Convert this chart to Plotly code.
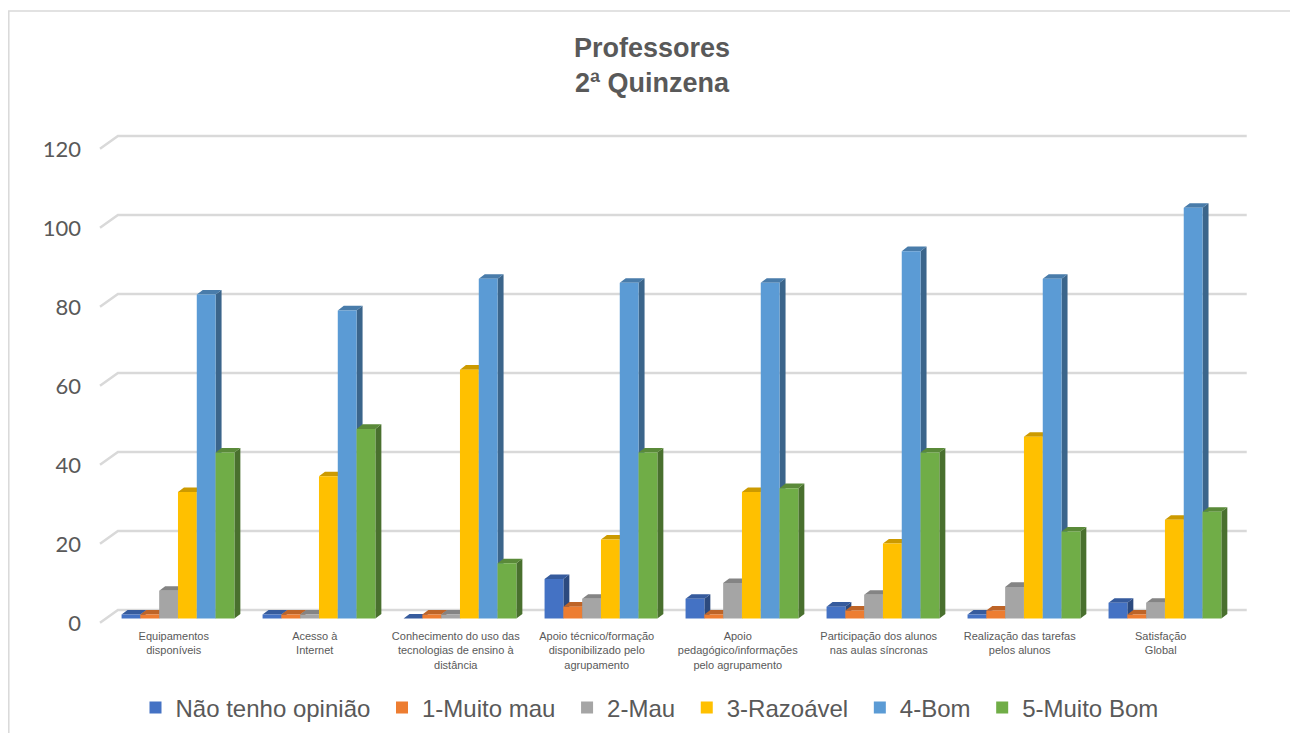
import plotly.graph_objects as go

# ---------------- data ----------------
categories = [
    "Equipamentos<br>disponíveis",
    "Acesso à<br>Internet",
    "Conhecimento do uso das<br>tecnologias de ensino à<br>distância",
    "Apoio técnico/formação<br>disponibilizado pelo<br>agrupamento",
    "Apoio<br>pedagógico/informações<br>pelo agrupamento",
    "Participação dos alunos<br>nas aulas síncronas",
    "Realização das tarefas<br>pelos alunos",
    "Satisfação<br>Global",
]
series_names = ["Não tenho opinião", "1-Muito mau", "2-Mau", "3-Razoável", "4-Bom", "5-Muito Bom"]
nao_tenho_opiniao = [1, 1, 0, 10, 5, 3, 1, 4]
muito_mau = [1, 1, 1, 3, 1, 2, 2, 1]
mau = [7, 1, 1, 5, 9, 6, 8, 4]
razoavel = [32, 36, 63, 20, 32, 19, 46, 25]
bom = [82, 78, 86, 85, 85, 93, 86, 104]
muito_bom = [42, 48, 14, 42, 33, 42, 22, 27]
y_ticks = [0, 20, 40, 60, 80, 100, 120]

series_values = [nao_tenho_opiniao, muito_mau, mau, razoavel, bom, muito_bom]

# ---------------- style ----------------
front_colors = ["#4472C4", "#ED7D31", "#A5A5A5", "#FFC000", "#5B9BD5", "#70AD47"]
side_colors = ["#2C4A7F", "#9A5120", "#6B6B6B", "#A67D00", "#3B658B", "#49702E"]
top_colors = ["#365B9D", "#BE6427", "#848484", "#CC9A00", "#497CAA", "#5A8A39"]
TEXT = "#595959"
GRID = "#d9d9d9"

GROUP = 0.8            # fraction of a category occupied by the cluster
BW = GROUP / len(series_values)
DX = 0.0425            # depth offset (x, category units)
DY = 1.15              # depth offset (y, value units)

W, H = 1298, 733
ML, MR, MT, MB = 82, 48, 112, 116
PW, PH = W - ML - MR, H - MT - MB

fig = go.Figure()

# back wall gridlines with the 3D diagonal at the front
gx, gy = [], []
for t in y_ticks:
    gx += [-0.553, -0.426, 7.58, None]
    gy += [t - 1.1, t + 2.15, t + 2.15, None]
fig.add_trace(go.Scatter(x=gx, y=gy, mode="lines",
                         line=dict(color=GRID, width=2.5),
                         hoverinfo="skip", showlegend=False))

# 3D-looking columns: front, side and top faces
for k, (vals, name) in enumerate(zip(series_values, series_names)):
    fx, fy, sx, sy, tx, ty = [], [], [], [], [], []
    for i, v in enumerate(vals):
        x0 = i - GROUP / 2 + k * BW
        x1 = x0 + BW
        fx += [x0, x1, x1, x0, x0, None]
        fy += [0, 0, v, v, 0, None]
        sx += [x1, x1 + DX, x1 + DX, x1, x1, None]
        sy += [0, DY, v + DY, v, 0, None]
        tx += [x0, x0 + DX, x1 + DX, x1, x0, None]
        ty += [v, v + DY, v + DY, v, v, None]
    fig.add_trace(go.Scatter(x=sx, y=sy, mode="lines", fill="toself",
                             fillcolor=side_colors[k], line=dict(width=0),
                             hoverinfo="skip", showlegend=False))
    fig.add_trace(go.Scatter(x=tx, y=ty, mode="lines", fill="toself",
                             fillcolor=top_colors[k], line=dict(width=0),
                             hoverinfo="skip", showlegend=False))
    fig.add_trace(go.Scatter(x=fx, y=fy, mode="lines", fill="toself",
                             fillcolor=front_colors[k], line=dict(width=0),
                             name=name, hoverinfo="skip", showlegend=False))

# legend entries
for k, name in enumerate(series_names):
    fig.add_trace(go.Bar(x=[None], y=[None], name=name + "\u00a0",
                         marker=dict(color=front_colors[k], line=dict(width=0))))

# chart-area frame (left and top edges visible in the reference)
bx0 = (0.8 - ML) / PW
by1 = (MT + PH - 3) / PH
frame_path = f"M {bx0},-0.5 L {bx0},{by1} L 1.3,{by1}"

fig.update_layout(
    width=W, height=H,
    paper_bgcolor="white", plot_bgcolor="white",
    margin=dict(l=ML, r=MR, t=MT, b=MB),
    title=dict(
        text="<b>Professores<br>2ª Quinzena</b>",
        x=644 / W, xanchor="center", y=1 - 49 / H, yanchor="middle", yref="container",
        font=dict(family="Liberation Sans", size=27, color=TEXT),
    ),
    xaxis=dict(
        range=[-0.624, 7.66],
        tickmode="array",
        tickvals=[i - 0.03 for i in range(len(categories))],
        ticktext=categories,
        showgrid=False, zeroline=False, showline=False, ticks="",
        ticklabelstandoff=3,
        tickfont=dict(family="Liberation Sans", size=11, color=TEXT),
        fixedrange=True,
    ),
    yaxis=dict(
        range=[-1.65, 126.2],
        tickmode="array",
        tickvals=[t - 1.2 for t in y_ticks],
        ticktext=[str(t) for t in y_ticks],
        showgrid=False, zeroline=False, showline=False, ticks="",
        ticklabelstandoff=8,
        tickfont=dict(family="Lato", size=22, color=TEXT),
        fixedrange=True,
    ),
    legend=dict(
        orientation="h", x=645 / W, xanchor="center", xref="container",
        y=1 - 700 / H, yanchor="middle", yref="container",
        font=dict(family="Liberation Sans", size=24, color=TEXT),
        itemwidth=30, traceorder="normal",
    ),
    shapes=[dict(type="path", xref="paper", yref="paper", path=frame_path,
                 line=dict(color="#d9d9d9", width=1.5), layer="below")],
    showlegend=True,
)

fig.write_html("out.html")
